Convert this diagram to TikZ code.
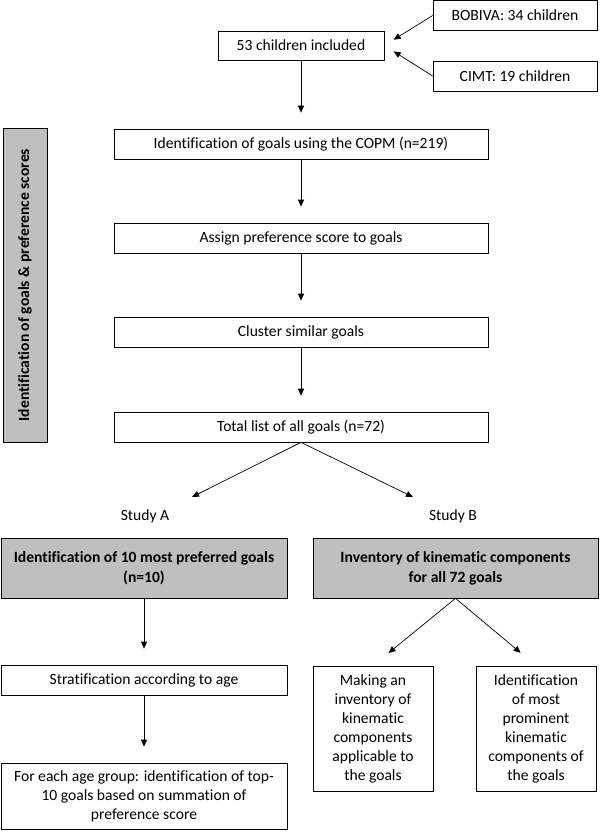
\documentclass[tikz,border=0pt]{standalone}
\usepackage{fontspec}
\setmainfont{Carlito}[Ligatures=CommonOff]
\usetikzlibrary{arrows.meta,positioning}
\definecolor{boxgray}{RGB}{191,191,191}

\begin{document}
\begin{tikzpicture}[->,>={Triangle[length=7pt,width=6pt]},x=1pt,y=-1pt,line width=0.7pt,font=\fontsize{15.6}{19}\selectfont]
  \tikzstyle{box}=[draw,rectangle,align=center,inner sep=1pt,minimum height=30pt]
  \tikzstyle{graybox}=[box,fill=boxgray,font=\fontsize{15.6}{20}\selectfont\bfseries]
  \tikzstyle{down}=[shorten >=16pt]
  \useasboundingbox (0,0) rectangle (600,832);

  % sources
  \node[box,minimum width=164pt] (bobiva) at (515,15.5) {BOBIVA: 34 children};
  \node[box,minimum width=164pt] (cimt) at (515,76) {CIMT: 19 children};
  \node[box,minimum width=166pt,minimum height=29pt] (incl) at (301,45.5) {53 children included};

  % goal identification
  \node[box,minimum width=374pt] (copm) at (301,144) {Identification of goals using the COPM (n=219)};
  \node[box,minimum width=374pt] (assign) at (301,238) {Assign preference score to goals};
  \node[box,minimum width=374pt] (cluster) at (301,332) {Cluster similar goals};
  \node[box,minimum width=374pt] (total) at (301,427) {Total list of all goals (n=72)};
  \node[graybox,rotate=90,minimum width=314pt,minimum height=44pt] (phase) at (25,285) {Identification of goals \& preference scores};

  % studies
  \node (studyA) at (145,516) {Study A};
  \node (studyB) at (453,516) {Study B};
  \coordinate (tipA) at (192,497);
  \coordinate (tipB) at (413,497);
  \node[graybox,minimum width=286pt,minimum height=60pt] (goalsA) at (144,568) {Identification of 10 most preferred goals\\(n=10)};
  \node[graybox,minimum width=285pt,minimum height=60pt] (kinB) at (455.5,568) {Inventory of kinematic components\\for all 72 goals};

  \node[box,minimum width=286pt] (strat) at (144,680) {Stratification according to age};
  \node[box,minimum width=286pt,minimum height=66pt] (top10) at (144,796) {For each age group: identification of top-\\10 goals based on summation of\\preference score};
  \node[box,minimum width=120pt,minimum height=125pt] (make) at (373,728.5) {Making an\\inventory of\\kinematic\\components\\applicable to\\the goals};
  \node[box,minimum width=120pt,minimum height=125pt] (prom) at (536,728.5) {Identification\\of most\\prominent\\kinematic\\components of\\the goals};

  \draw[shorten >=11pt] (bobiva.west) -- (incl.east);
  \draw[shorten >=11pt] (cimt.west) -- (incl.east);
  \draw[down] (incl) -- (copm);
  \draw[down] (copm) -- (assign);
  \draw[down] (assign) -- (cluster);
  \draw[down] (cluster) -- (total);
  \draw (total.south) -- (tipA);
  \draw (total.south) -- (tipB);
  \draw[down] (goalsA) -- (strat);
  \draw[down] (strat) -- (top10);
  \draw[shorten >=20pt] (kinB.south) -- (make.north);
  \draw[shorten >=20pt] (kinB.south) -- (prom.north);
\end{tikzpicture}
\end{document}
